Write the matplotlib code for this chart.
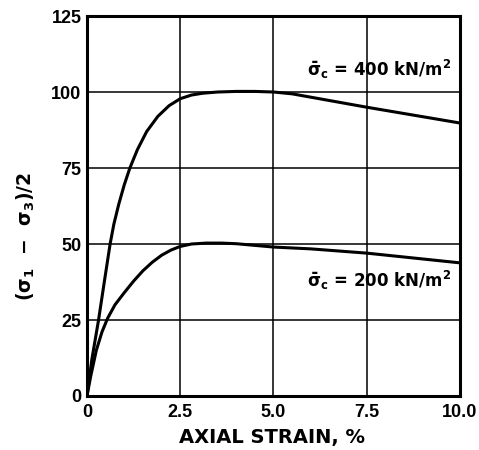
import matplotlib
matplotlib.use('Agg')
import matplotlib.pyplot as plt

plt.rcParams['font.family'] = ['DejaVu Sans']
plt.rcParams['font.weight'] = 'bold'
plt.rcParams['mathtext.fontset'] = 'custom'
plt.rcParams['mathtext.rm'] = 'DejaVu Sans:bold'
plt.rcParams['mathtext.it'] = 'DejaVu Sans:bold'
plt.rcParams['mathtext.bf'] = 'DejaVu Sans:bold'

# axial strain (%) and (s1 - s3)/2 for the two confining pressures
strain_400 = [0, 0.13, 0.31, 0.47, 0.62, 0.72, 0.85, 1.0, 1.15, 1.35, 1.6, 1.9, 2.2, 2.5,
              2.8, 3.1, 3.5, 4.0, 4.5, 5.0, 5.5, 6.0, 7.5, 10.0]
stress_400 = [0, 12, 25, 38, 50, 56.5, 63, 69.5, 75, 81, 87, 92, 95.5, 97.8,
              99.0, 99.6, 100, 100.2, 100.2, 100, 99.4, 98.3, 95, 89.8]

strain_200 = [0, 0.1, 0.25, 0.4, 0.55, 0.75, 1.0, 1.25, 1.5, 1.75, 2.0, 2.25, 2.5, 2.8,
              3.2, 3.6, 4.0, 5.0, 6.0, 7.5, 10.0]
stress_200 = [0, 6.5, 15, 21, 25.5, 30, 34, 37.8, 41.2, 44, 46.3, 48, 49.2, 50.0,
              50.3, 50.3, 50.1, 49.0, 48.4, 47.0, 43.8]

x_ticks = [0, 2.5, 5.0, 7.5, 10.0]
x_tick_labels = ['0', '2.5', '5.0', '7.5', '10.0']
y_ticks = [0, 25, 50, 75, 100, 125]

fig = plt.figure(figsize=(4.79, 4.5), dpi=100)
ax = fig.add_axes([0.1816, 0.12, 0.7787, 0.8444])

ax.plot(strain_400, stress_400, color='black', lw=2.2, solid_capstyle='round', zorder=2)
ax.plot(strain_200, stress_200, color='black', lw=2.2, solid_capstyle='round', zorder=2)

ax.set_xlim(0, 10)
ax.set_ylim(0, 125)
ax.set_xticks(x_ticks)
ax.set_xticklabels(x_tick_labels)
ax.set_yticks(y_ticks)
ax.grid(True, color='black', lw=1.1)
ax.tick_params(axis='x', length=0, pad=6)
ax.tick_params(axis='y', length=0, pad=4)
for lab in ax.get_xticklabels() + ax.get_yticklabels():
    lab.set_fontfamily('Liberation Sans')
    lab.set_fontweight('bold')
    lab.set_fontsize(13)
for sp in ax.spines.values():
    sp.set_linewidth(2.2)

ax.set_xlabel('AXIAL STRAIN, %', fontsize=14, fontweight='bold')
ax.xaxis.set_label_coords(0.497, -0.085)
ax.set_ylabel(r'($\sigma_1$ $\,-\,$ $\sigma_3$)/2', fontsize=13.5, fontweight='bold')
ax.yaxis.set_label_coords(-0.135, 0.418)

box = dict(facecolor='white', edgecolor='none', boxstyle='square,pad=0.3')
ax.text(5.9, 105.3, r'$\bar{\sigma}_c$ = 400 kN/m$^2$', fontsize=12,
        fontweight='bold', va='baseline', ha='left', bbox=box, zorder=1.5)
ax.text(5.9, 35.9, r'$\bar{\sigma}_c$ = 200 kN/m$^2$', fontsize=12,
        fontweight='bold', va='baseline', ha='left', bbox=box, zorder=1.5)

fig.savefig('out.png', dpi=100)
